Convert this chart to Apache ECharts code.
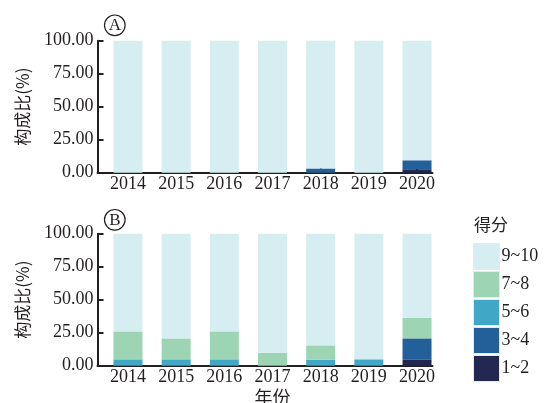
<!DOCTYPE html>
<html>
<head>
<meta charset="utf-8">
<script src="https://cdn.jsdelivr.net/npm/echarts@6/dist/echarts.min.js"></script>
<style>
  html, body { margin: 0; padding: 0; background: #ffffff; }
  #chart { width: 545px; height: 403px; }
</style>
</head>
<body>
<div id="chart"></div>
<script>
// Years on the category axis
const years = ['2014', '2015', '2016', '2017', '2018', '2019', '2020'];
// Score bands, stacked bottom-up
const bands = ['1~2', '3~4', '5~6', '7~8', '9~10'];
const legendOrder = ['9~10', '7~8', '5~6', '3~4', '1~2'];
const bandColors = {
  '1~2': '#22284f',
  '3~4': '#235f99',
  '5~6': '#40a8c6',
  '7~8': '#9cd4b4',
  '9~10': '#d6eef1'
};

// Panel A composition (%)
const panelA_1_2 = [0, 0, 0, 0, 0, 0, 2.6];
const panelA_3_4 = [0, 0, 0, 0, 3.2, 0, 6.8];
const panelA_5_6 = [0, 0, 0, 0, 0, 0, 0];
const panelA_7_8 = [0, 0, 0, 0, 0, 0, 0];
const panelA_9_10 = [100, 100, 100, 100, 96.8, 100, 90.6];

// Panel B composition (%)
const panelB_1_2 = [0, 0, 0, 0, 0, 0, 4.8];
const panelB_3_4 = [0, 0, 0, 0, 0, 0, 15.9];
const panelB_5_6 = [4.8, 4.8, 4.8, 0, 4.5, 4.8, 0];
const panelB_7_8 = [21.2, 15.9, 21.2, 9.8, 10.9, 0, 15.7];
const panelB_9_10 = [74.0, 79.3, 74.0, 90.2, 84.6, 95.2, 63.6];

const panelA = { '1~2': panelA_1_2, '3~4': panelA_3_4, '5~6': panelA_5_6, '7~8': panelA_7_8, '9~10': panelA_9_10 };
const panelB = { '1~2': panelB_1_2, '3~4': panelB_3_4, '5~6': panelB_5_6, '7~8': panelB_7_8, '9~10': panelB_9_10 };

const ink = '#231f20';
const serif = '"Liberation Serif", "Times New Roman", serif';
const cjk = '"Noto Sans CJK SC", sans-serif';

// layout of the two panels
const panels = [
  { top: 40.7, height: 132, data: panelA, letter: 'A', letterY: 23.5 },
  { top: 233.7, height: 132, data: panelB, letter: 'B', letterY: 218 }
];
const barLeft = 103.9, barWidth = 337.2;
const frameLeft = 97.5, frameWidth = 335;

const grid = [], xAxis = [], yAxis = [], series = [], graphic = [];

panels.forEach(function (p, k) {
  const gBar = grid.length;
  grid.push({ left: barLeft, top: p.top, width: barWidth, height: p.height, outerBoundsMode: 'none', containLabel: false });
  grid.push({ left: frameLeft, top: p.top, width: frameWidth, height: p.height, outerBoundsMode: 'none', containLabel: false });

  // category axis carrying the bars, ticks and year labels
  xAxis.push({
    type: 'category', gridIndex: gBar, data: years,
    axisLine: { show: false },
    axisTick: { show: true, inside: true, alignWithLabel: true, length: 5, lineStyle: { color: ink, width: 2 } },
    axisLabel: { color: ink, fontFamily: serif, fontSize: 18, margin: 3 },
    name: k === 1 ? '年份' : '',
    nameLocation: 'middle', nameGap: 22,
    nameTextStyle: { color: ink, fontFamily: cjk, fontSize: 18 }
  });
  yAxis.push({ type: 'value', gridIndex: gBar, min: 0, max: 100, show: false });

  // frame axes: the L-shaped axis lines and the value scale
  xAxis.push({
    type: 'value', gridIndex: gBar + 1, min: 0, max: 1,
    axisLine: { show: true, onZero: false, lineStyle: { color: ink, width: 2 } },
    axisTick: { show: false }, axisLabel: { show: false }, splitLine: { show: false }
  });
  yAxis.push({
    type: 'value', gridIndex: gBar + 1, min: 0, max: 100, interval: 25,
    axisLine: { show: true, lineStyle: { color: ink, width: 2 } },
    axisTick: { show: true, inside: true, length: 6, lineStyle: { color: ink, width: 2 } },
    axisLabel: { color: ink, fontFamily: serif, fontSize: 18, margin: 4,
      formatter: function (v) { return v.toFixed(2); } },
    splitLine: { show: false },
    name: '构成比(%)', nameLocation: 'middle', nameRotate: 90, nameGap: 66,
    nameTextStyle: { color: ink, fontFamily: cjk, fontSize: 17 }
  });

  bands.forEach(function (b) {
    series.push({
      type: 'bar', name: b, stack: 'panel' + k,
      xAxisIndex: gBar, yAxisIndex: gBar,
      barWidth: 29,
      itemStyle: { color: bandColors[b] },
      emphasis: { disabled: true },
      data: p.data[b]
    });
  });

  // circled panel letter
  graphic.push({
    type: 'group', left: 102, top: p.letterY - 11,
    children: [
      { type: 'circle', shape: { cx: 11, cy: 11, r: 10.3 }, style: { fill: 'none', stroke: ink, lineWidth: 1.2 } },
      { type: 'text', x: 11, y: 11.5, style: { text: p.letter, fill: ink, font: '17px ' + serif, align: 'center', verticalAlign: 'middle' } }
    ]
  });
});

graphic.push({
  type: 'text', left: 474, top: 216,
  style: { text: '得分', fill: ink, font: '17px ' + cjk }
});

const chart = echarts.init(document.getElementById('chart'), null, { renderer: 'canvas' });
chart.setOption({
  animation: false,
  backgroundColor: '#ffffff',
  grid: grid,
  xAxis: xAxis,
  yAxis: yAxis,
  series: series,
  graphic: graphic,
  legend: {
    data: legendOrder,
    orient: 'vertical',
    left: 473, top: 243,
    padding: 0,
    itemWidth: 26, itemHeight: 26, itemGap: 1,
    icon: 'rect',
    itemStyle: { borderColor: '#e6e9ea', borderWidth: 1 },
    textStyle: { color: ink, fontFamily: serif, fontSize: 18, padding: [0, 0, 0, -3] },
    selectedMode: false
  }
});
</script>
</body>
</html>
